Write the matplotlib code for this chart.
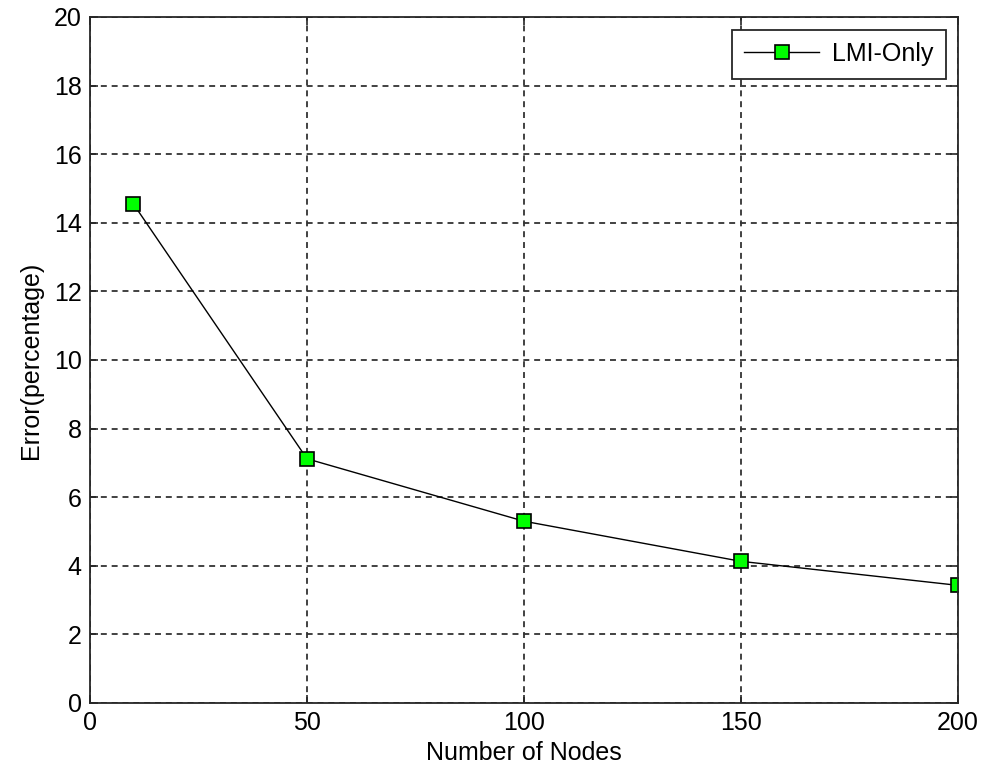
import matplotlib.pyplot as plt

# error vs number of nodes
nodes = [10, 50, 100, 150, 200]
error_pct = [14.55, 7.12, 5.3, 4.13, 3.43]
series_label = "LMI-Only"

plt.rcParams['font.family'] = ['Liberation Sans', 'DejaVu Sans']
plt.rcParams['font.size'] = 18

fig = plt.figure(figsize=(9.82, 7.73), dpi=100)
ax = fig.add_axes([90 / 982, 70 / 773, 868 / 982, 686 / 773])

ax.plot(nodes, error_pct, color='black', lw=1.0, marker='s', markersize=10,
        markerfacecolor=(0, 1, 0), markeredgecolor='black', markeredgewidth=1.2,
        label=series_label)

ax.set_xlim(0, 200)
ax.set_ylim(0, 20)
ax.set_xticks([0, 50, 100, 150, 200])
ax.set_yticks(range(0, 21, 2))
ax.grid(True, color='#333333', linestyle=(0, (3.3, 2.7)), linewidth=1.3)
ax.tick_params(direction='in', top=True, right=True, length=6, width=1.2, pad=6,
               color='#262626')
for s in ax.spines.values():
    s.set_linewidth(1.3)
    s.set_color('#262626')

ax.set_xlabel("Number of Nodes", labelpad=4)
ax.set_ylabel("Error(percentage)", labelpad=8)

leg = ax.legend(loc='upper right', fancybox=False, framealpha=1, edgecolor='#262626',
                handlelength=3.0, handletextpad=0.5, borderpad=0.5,
                borderaxespad=0.5)
leg.get_frame().set_linewidth(1.3)

fig.savefig("out.png", dpi=100)
